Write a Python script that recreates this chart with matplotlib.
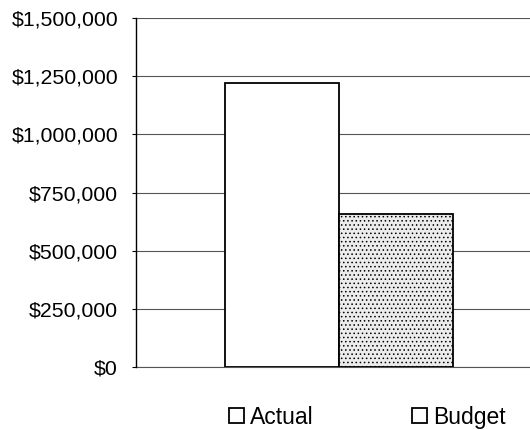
import matplotlib

matplotlib.use("Agg")
import matplotlib.pyplot as plt
from matplotlib.patches import Patch
from matplotlib.ticker import FuncFormatter

series = ["Actual", "Budget"]
values = [1_220_000, 658_000]
y_ticks = [0, 250_000, 500_000, 750_000, 1_000_000, 1_250_000, 1_500_000]

plt.rcParams["font.family"] = ["Liberation Sans", "DejaVu Sans"]
plt.rcParams["hatch.linewidth"] = 0.6
plt.rcParams["hatch.color"] = "#6a6a6a"

fig = plt.figure(figsize=(5.3, 4.3), dpi=100)
ax = fig.add_axes([0.2566, 0.1465, 0.7434, 0.8116])

width = 0.58
offsets = [-width / 2, width / 2]
faces = ["white", "#ececec"]
hatches = [None, "...."]
for name, val, off, fc, h in zip(series, values, offsets, faces, hatches):
    ax.bar(off, val, width=width, color=fc, edgecolor="black",
           linewidth=1.3, hatch=h, zorder=3, label=name)

ax.set_xlim(-1.03, 0.97)
ax.set_ylim(0, 1_500_000)
ax.set_yticks(y_ticks)
ax.yaxis.set_major_formatter(FuncFormatter(lambda v, _: f"${v:,.0f}"))
ax.set_xticks([])

ax.grid(axis="y", color="#555555", linewidth=0.8, zorder=0)
ax.axhline(0, color="#555555", linewidth=0.8, zorder=1, clip_on=False)
ax.set_axisbelow(True)
for side in ["top", "right", "bottom"]:
    ax.spines[side].set_visible(False)
ax.spines["left"].set_linewidth(1.0)
ax.tick_params(axis="y", direction="out", length=3, width=0.8,
               pad=10, labelsize=15.3)

handles = [Patch(facecolor="white", edgecolor="black", linewidth=1.3)
           for _ in series]
fig.legend(handles, series, loc="center", bbox_to_anchor=(0.693, 0.03),
           bbox_transform=fig.transFigure, ncol=2, frameon=False,
           fontsize=16.5, handlelength=0.65, handleheight=0.65,
           handletextpad=0.26, columnspacing=4.3)

fig.savefig("out.png", dpi=100)
